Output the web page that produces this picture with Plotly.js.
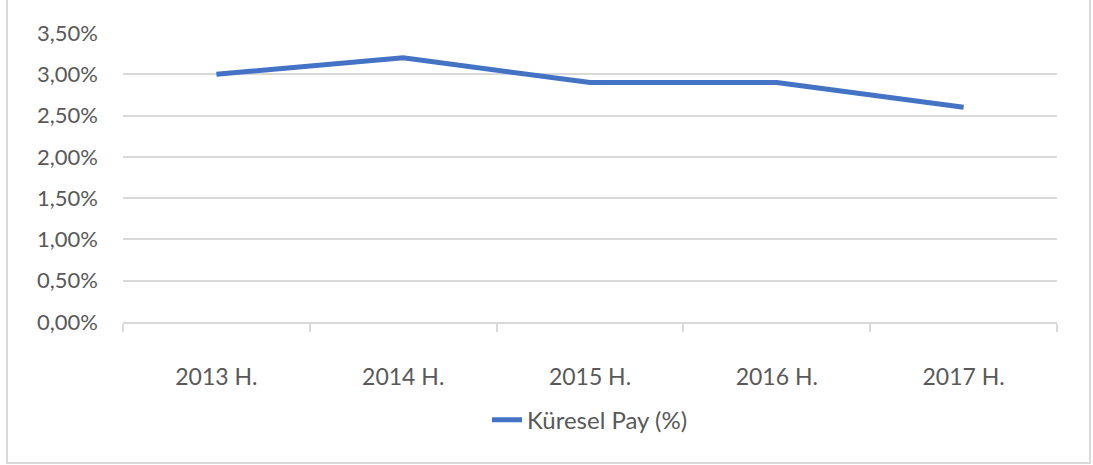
<!DOCTYPE html>
<html>
<head>
<meta charset="utf-8">
<script src="https://cdn.plot.ly/plotly-3.0.1.min.js"></script>
<style>
html,body{margin:0;padding:0;background:#fff;}
#wrap{position:relative;width:1093px;height:465px;overflow:hidden;}
#frame{position:absolute;left:6px;top:-4px;width:1085px;height:468px;border:2px solid #d9d9d9;box-sizing:border-box;pointer-events:none;}
#chart{position:absolute;left:0;top:0;width:1093px;height:465px;}
</style>
</head>
<body>
<div id="wrap">
<div id="chart"></div>
<div id="frame"></div>
</div>
<script>
const categories = ["2013 H.", "2014 H.", "2015 H.", "2016 H.", "2017 H."];
const kureselPay = [0.030, 0.032, 0.029, 0.029, 0.026];
const seriesName = "Küresel Pay (%)";
const yTicks = [0, 0.005, 0.010, 0.015, 0.020, 0.025, 0.030, 0.035];

const trace = {
  x: categories,
  y: kureselPay,
  name: seriesName,
  type: "scatter",
  mode: "lines",
  line: {color: "#4472c4", width: 5},
  showlegend: true
};

const layout = {
  width: 1093,
  height: 465,
  margin: {l: 123, r: 36, t: 33, b: 143},
  paper_bgcolor: "#ffffff",
  plot_bgcolor: "#ffffff",
  separators: ",.",
  font: {family: "Lato, Open Sans, sans-serif", color: "#595959", size: 22},
  xaxis: {
    type: "category",
    range: [-0.5, categories.length - 0.5],
    tickson: "boundaries",
    ticks: "outside",
    ticklen: 8,
    tickwidth: 2,
    tickcolor: "#d9d9d9",
    showline: true,
    linecolor: "#d9d9d9",
    linewidth: 2,
    showgrid: false,
    ticklabelstandoff: 33,
    tickfont: {size: 23, color: "#595959"},
    fixedrange: true
  },
  yaxis: {
    range: [0, 0.035],
    tickvals: yTicks,
    tickformat: ".2%",
    showgrid: true,
    gridcolor: "#d9d9d9",
    gridwidth: 2,
    zeroline: false,
    showline: false,
    ticks: "",
    ticklabelstandoff: 24,
    tickfont: {size: 22, color: "#595959"},
    fixedrange: true
  },
  showlegend: true,
  legend: {
    orientation: "h",
    x: 0.5,
    xanchor: "center",
    y: -0.34,
    yanchor: "middle",
    font: {size: 24, color: "#595959"},
    bgcolor: "rgba(0,0,0,0)"
  }
};

Plotly.newPlot("chart", [trace], layout, {displayModeBar: false, staticPlot: true});
</script>
</body>
</html>
